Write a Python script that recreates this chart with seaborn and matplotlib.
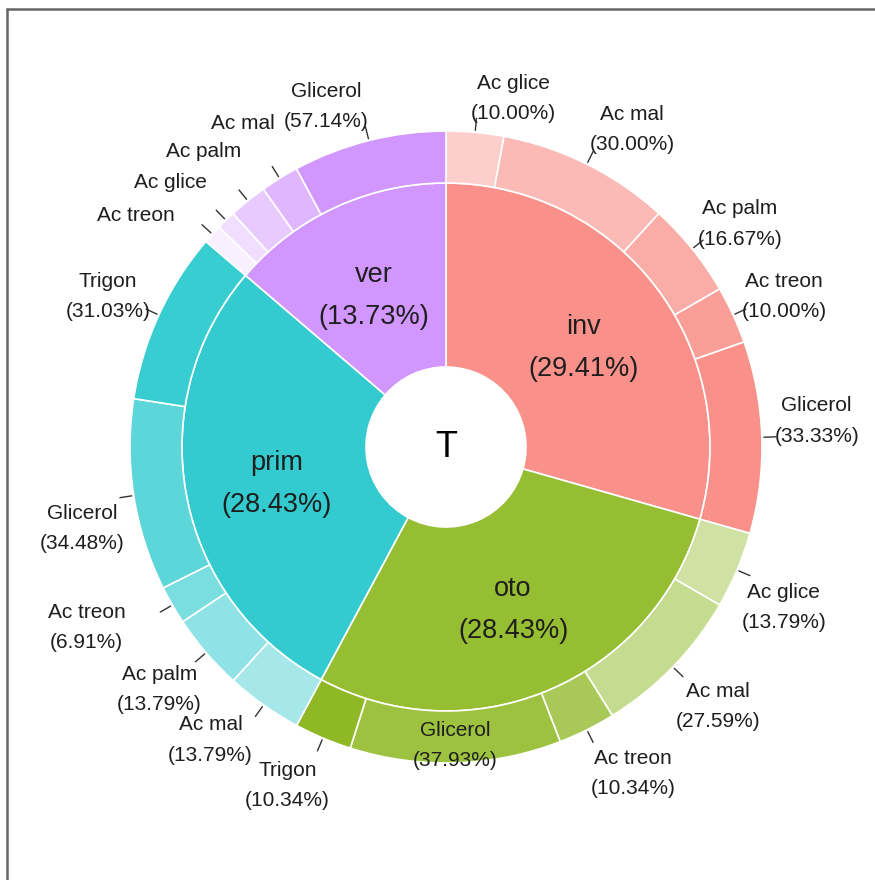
import numpy as np
import matplotlib.pyplot as plt
import seaborn as sns
from matplotlib.lines import Line2D

# inner ring
groups = ["inv", "oto", "prim", "ver"]
group_pct = [29.41, 28.43, 28.43, 13.73]

# outer ring, percentages within each group (clockwise order)
inv_subs = ["Ac glice", "Ac mal", "Ac palm", "Ac treon", "Glicerol"]
inv_pct = [10.00, 30.00, 16.67, 10.00, 33.33]
oto_subs = ["Ac glice", "Ac mal", "Ac treon", "Glicerol", "Trigon"]
oto_pct = [13.79, 27.59, 10.34, 37.93, 10.34]
prim_subs = ["Ac mal", "Ac palm", "Ac treon", "Glicerol", "Trigon"]
prim_pct = [13.79, 13.79, 6.91, 34.48, 31.03]
ver_subs = ["Ac treon", "Ac glice", "Ac palm", "Ac mal", "Glicerol"]
ver_pct = [7.14, 7.14, 14.29, 14.29, 57.14]

subs = [inv_subs, oto_subs, prim_subs, ver_subs]
sub_pct = [inv_pct, oto_pct, prim_pct, ver_pct]

# styling
base = sns.color_palette(["#F8766D", "#7CAE00", "#00BFC4", "#C77CFF"])
sub_alpha = [[0.35, 0.50, 0.60, 0.70, 0.80],
             [0.36, 0.44, 0.66, 0.75, 0.86],
             [0.35, 0.44, 0.52, 0.64, 0.78],
             [0.12, 0.25, 0.40, 0.55, 0.80]]
hide_pct = {("ver", "Ac treon"), ("ver", "Ac glice"), ("ver", "Ac palm"), ("ver", "Ac mal")}
inside = {("oto", "Glicerol")}
# label shifts like a repel would give: (clockwise degrees, radius px)
nudge = {("inv", "Ac glice"): (5.5, -12), ("inv", "Ac mal"): (3.5, 0),
         ("inv", "Ac palm"): (1, 0), ("inv", "Glicerol"): (-3, 0),
         ("oto", "Ac glice"): (1.8, 0), ("oto", "Ac mal"): (-1, 0),
         ("oto", "Ac treon"): (-3.7, 0), ("oto", "Trigon"): (2.5, -3),
         ("prim", "Ac mal"): (4, 0), ("prim", "Ac palm"): (1, 0),
         ("prim", "Ac treon"): (4, 28), ("prim", "Glicerol"): (-3, 0),
         ("ver", "Ac treon"): (-5, 4), ("ver", "Ac glice"): (-1.5, 0),
         ("ver", "Glicerol"): (-5, -6)}

sns.set_theme(style="white")
plt.rcParams['font.family'] = ['Liberation Sans', 'DejaVu Sans']

r_hole, r_in, r_out = 80, 264, 316
cx, cy = 446, 447
W, H = 875, 880

fig = plt.figure(figsize=(W / 100, H / 100), dpi=100)
ax = fig.add_axes([0, 0, 1, 1])

inner_cols = [(*c, 0.8) for c in base]
w_in, _ = ax.pie(group_pct, radius=r_in, colors=inner_cols, startangle=90,
                 counterclock=False,
                 wedgeprops=dict(width=r_in - r_hole, edgecolor="white", linewidth=1.2))

outer_sizes, outer_cols, outer_keys = [], [], []
for g, gname in enumerate(groups):
    for s, name in enumerate(subs[g]):
        outer_sizes.append(group_pct[g] * sub_pct[g][s] / 100)
        outer_cols.append((*base[g], sub_alpha[g][s]))
        outer_keys.append((gname, name, sub_pct[g][s]))

w_out, _ = ax.pie(outer_sizes, radius=r_out, colors=outer_cols, startangle=90,
                  counterclock=False,
                  wedgeprops=dict(width=r_out - r_in, edgecolor="white", linewidth=1.2))

txt = "#1e1e1e"
dy = -5  # multi-line text sits a little high with va="center"

# inner labels
for w, gname, p in zip(w_in, groups, group_pct):
    a = np.deg2rad((w.theta1 + w.theta2) / 2)
    r = (r_hole + r_in) / 2
    ax.text(r * np.cos(a), r * np.sin(a) + dy, f"{gname}\n({p:.2f}%)", ha="center",
            va="center", fontsize=19.5, color=txt, linespacing=1.8)

# outer labels
for w, (gname, name, p) in zip(w_out, outer_keys):
    mid = (w.theta1 + w.theta2) / 2
    a = np.deg2rad(mid)
    if (gname, name) in inside:
        r = (r_in + r_out) / 2 + 4
        ax.text(r * np.cos(a), r * np.sin(a) + dy, f"{name}\n({p:.2f}%)", ha="center",
                va="center", fontsize=15, color=txt, linespacing=1.75)
        continue
    ax.add_line(Line2D([(r_out + 2) * np.cos(a), (r_out + 14) * np.cos(a)],
                       [(r_out + 2) * np.sin(a), (r_out + 14) * np.sin(a)],
                       color="#333333", lw=1))
    dth, dr = nudge.get((gname, name), (0, 0))
    al = np.deg2rad(mid - dth)
    if (gname, name) in hide_pct:
        r = 386 + dr
        label = name
    else:
        r = 372 + dr
        label = f"{name}\n({p:.2f}%)"
    ax.text(r * np.cos(al), r * np.sin(al) + dy, label, ha="center", va="center",
            fontsize=15, color=txt, linespacing=1.75)

ax.text(0, 0, "T", ha="center", va="center", fontsize=26, color="black")

ax.set_xlim(-cx, W - cx)
ax.set_ylim(-(H - cy), cy)
ax.set_aspect("equal")
ax.axis("off")

# frame (cropped at right and bottom)
x0, y0 = 7 / W, 1 - 9.5 / H
fig.add_artist(Line2D([x0, 1], [y0, y0], transform=fig.transFigure, color="#666666", lw=1.8))
fig.add_artist(Line2D([x0, x0], [0, y0], transform=fig.transFigure, color="#666666", lw=1.8))

fig.savefig("out.png", dpi=100, facecolor="white")
